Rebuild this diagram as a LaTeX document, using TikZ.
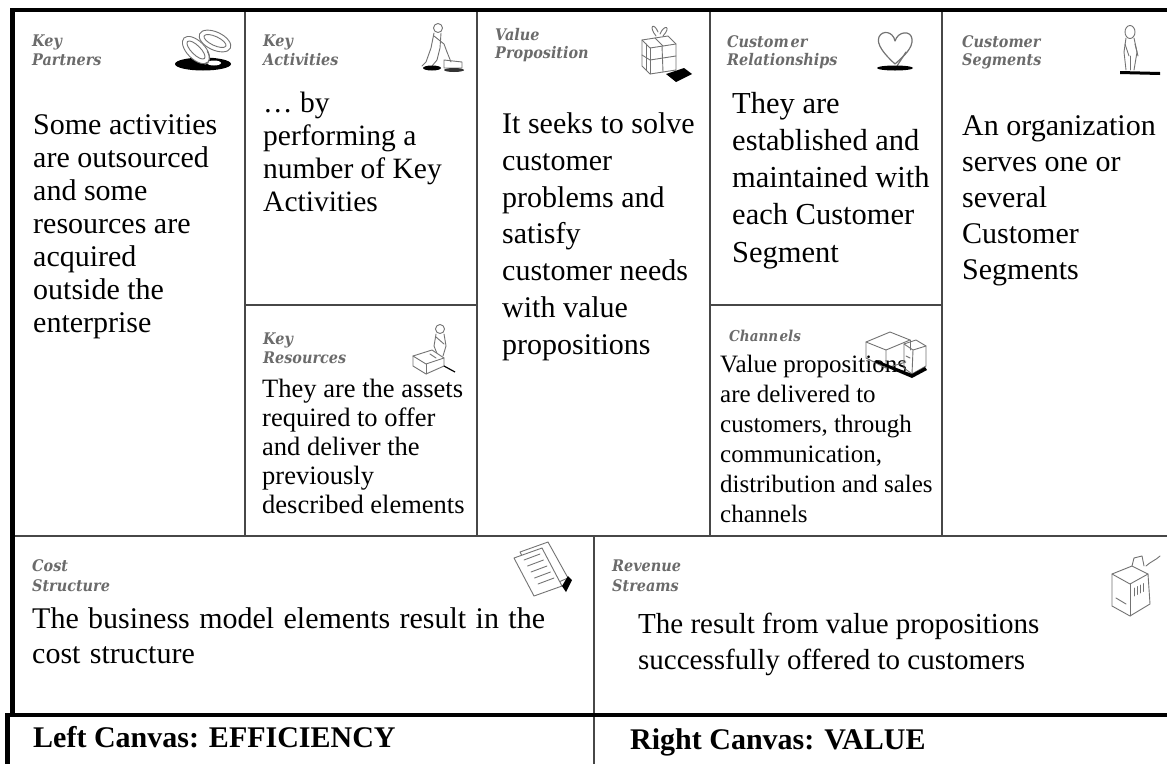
\documentclass[tikz,border=0pt]{standalone}
\usepackage{fontspec}
\setmainfont{Liberation Serif}
\newfontfamily\labelfont[FakeStretch=0.9]{DejaVu Serif}
\newfontfamily\widefont[WordSpace=1.25]{Liberation Serif}
\usetikzlibrary{calc}
\begin{document}
\begin{tikzpicture}[x=1pt,y=-1pt,
  thinrule/.style={draw=black!72, line width=2pt},
  thickrule/.style={draw=black, line width=4.5pt},
  blocklabel/.style={anchor=north west, inner sep=0pt, align=left, text=black!58,
    font=\labelfont\bfseries\itshape\fontsize{16}{18.5}\selectfont},
  textsize/.style 2 args={font=\fontsize{#1}{#2}\selectfont},
  bodytext/.style={anchor=north west, inner sep=0pt, align=left},
  footertext/.style={anchor=north west, inner sep=0pt,
    font=\bfseries\fontsize{30}{33}\selectfont},
  sketch/.style={draw=black!55, line width=0.9pt, line cap=round, line join=round},
]
\useasboundingbox (0,0) rectangle (1167,764);
\fill[white] (0,0) rectangle (1167,764);

% ---- grid of the canvas ----
\coordinate (c1) at (245,10);
\coordinate (c2) at (477,10);
\coordinate (c3) at (710,10);
\coordinate (c4) at (942,10);
\draw[thinrule] (c1) -- (245,536);
\draw[thinrule] (c2) -- (477,536);
\draw[thinrule] (c3) -- (710,536);
\draw[thinrule] (c4) -- (942,536);
\draw[thinrule] (245,305) -- (477,305);
\draw[thinrule] (710,305) -- (942,305);
\draw[thinrule] (12,536) -- (1167,536);
\draw[thinrule] (594,536) -- (594,764);
% heavy outer rules
\draw[thickrule] (10,10) -- (1167,10);
\draw[thickrule] (12.5,8) -- (12.5,717);
\draw[thickrule] (5,715) -- (1167,715);
\draw[thickrule] (7.5,713) -- (7.5,764);

% ---- block titles ----
\node[blocklabel] (kpLabel) at (32,35) {Key\\Partners};
\node[blocklabel] (kaLabel) at (263,35) {Key\\Activities};
\node[blocklabel] (vpLabel) at (495,28) {Value\\Proposition};
\node[blocklabel] (crLabel) at (727,35) {Custom\hspace{2pt}er\\Relationships};
\node[blocklabel] (csLabel) at (962,35) {Customer\\Segments};
\node[blocklabel] (krLabel) at (263,333) {Key\\Resources};
\node[blocklabel, font=\labelfont\bfseries\itshape\fontsize{15}{17}\selectfont] (chLabel) at (729,330) {Chann\hspace{1.5pt}els};
\node[blocklabel, font=\labelfont\bfseries\itshape\fontsize{16}{20}\selectfont] (cosLabel) at (32,559) {Cost\\Structure};
\node[blocklabel, font=\labelfont\bfseries\itshape\fontsize{16}{20}\selectfont] (revLabel) at (612,560) {Revenue\\Streams};

% ---- block texts ----
\node[bodytext, textsize={30}{33}] (kpText) at (33,114) {Some activities\\are outsourced\\and some\\resources are\\acquired\\outside the\\enterprise};
\node[bodytext, textsize={29.5}{33}] (kaText) at (263,92) {… by\\performing a\\number of Key\\Activities};
\node[bodytext, textsize={30}{36.8}] (vpText) at (502,112.5) {It seeks to solve\\customer\\problems and\\satisfy\\customer needs\\with value\\propositions};
\node[bodytext, textsize={30.5}{37.2}] (crText) at (732,92) {They are\\established and\\maintained with\\each Customer\\Segment};
\node[bodytext, textsize={30}{36}] (csText) at (962,115) {An organization\\serves one or\\several\\Customer\\Segments};
\node[bodytext, textsize={26.5}{29}] (krText) at (262,379) {They are the assets\\required to offer\\and deliver the\\previously\\described elements};
\node[bodytext, textsize={25}{30}] (chText) at (720,355) {Value propositions\\are delivered to\\customers, through\\communication,\\distribution and sales\\channels};
\node[bodytext, font=\widefont\fontsize{30}{35}\selectfont] (cosText) at (32,607.5) {The business model elements result in the\\cost structure};
\node[bodytext, textsize={29}{35.5}] (revText) at (638,613) {The result from value propositions\\successfully offered to customers};
\node[footertext] (leftFoot) at (33,726) {Left Canvas: EFFICIENCY};
\node[footertext] (rightFoot) at (630,728) {Right Canvas: VALUE};

% ---- icons ----
% interlocked rings
\fill[black] (203,64) ellipse [x radius=28, y radius=6.5];
\fill[white] (214,63) ellipse [x radius=7, y radius=2.5];
\begin{scope}[shift={(196,50)}, rotate=-45]
  \draw[sketch, fill=white] (0,0) ellipse [x radius=17, y radius=9];
  \draw[sketch] (0,0) ellipse [x radius=12, y radius=4.5];
\end{scope}
\begin{scope}[shift={(215,41)}, rotate=-25]
  \draw[sketch, fill=white] (0,0) ellipse [x radius=17, y radius=9];
  \draw[sketch] (0,0) ellipse [x radius=12, y radius=4.5];
\end{scope}
\begin{scope}[shift={(196,50)}, rotate=-45]
  \draw[sketch] (9,-7) arc [start angle=-60, end angle=20, x radius=17, y radius=9];
\end{scope}

% figure pushing a mower
\draw[sketch] (438,28) circle [radius=4.5];
\draw[sketch] (434,33) -- (431,48) -- (426,62) -- (422,66);
\draw[sketch] (441,33) -- (440,48) -- (437,60) -- (432,66);
\draw[sketch] (434,36) -- (444,44) -- (447,52);
\draw[sketch] (447,52) -- (451,62);
\draw[sketch] (444,60) -- (462,62) -- (462,68) -- (444,68) -- cycle;
\fill[black] (432,68) ellipse [x radius=9, y radius=2.5];
\fill[black!80] (454,70) ellipse [x radius=10, y radius=2];

% gift box
\draw[sketch, fill=white] (642,40) -- (668,36) -- (676,44) -- (676,70) -- (650,74) -- (642,66) -- cycle;
\draw[sketch] (642,40) -- (650,48) -- (676,44);
\draw[sketch] (650,48) -- (650,74);
\draw[sketch] (646,44) -- (646,70);
\draw[sketch] (662,46) -- (663,72);
\draw[sketch] (642,55) -- (650,60) -- (676,56);
\draw[sketch] (655,38) -- (663,46);
\draw[sketch] (656,36) .. controls (648,26) and (654,22) .. (658,32);
\draw[sketch] (660,34) .. controls (664,24) and (672,26) .. (663,36);
\fill[black] (666,74) -- (684,68) -- (692,74) -- (676,82) -- cycle;

% heart
\draw[sketch, line width=1.2pt] (895,64) .. controls (884,54) and (876,44) .. (879,37)
  .. controls (882,30) and (893,31) .. (895,41)
  .. controls (898,31) and (911,30) .. (912,39)
  .. controls (913,48) and (904,56) .. (895,64);
\draw[sketch, line width=1.2pt] (906,52) -- (897,66);
\fill[black] (895,68) ellipse [x radius=18, y radius=2.5];

% standing person
\draw[sketch] (1130,32) ellipse [x radius=5, y radius=6.5];
\draw[sketch] (1126,38) -- (1124,52) -- (1126,70);
\draw[sketch] (1134,38) -- (1137,52) -- (1134,70);
\draw[sketch] (1125,44) -- (1129,56);
\draw[sketch] (1135,44) -- (1138,56);
\draw[sketch] (1130,56) -- (1130,70);
\fill[black] (1120,71) -- (1160,72) -- (1160,75) -- (1120,74) -- cycle;

% figure on a machine
\draw[sketch] (440,329) circle [radius=4.5];
\draw[sketch] (436,334) -- (434,346) -- (438,356);
\draw[sketch] (444,334) -- (446,346) -- (443,356);
\draw[sketch] (436,337) -- (444,344);
\draw[sketch, fill=white] (413,356) -- (432,350) -- (444,358) -- (444,366) -- (426,374) -- (413,366) -- cycle;
\draw[sketch] (413,356) -- (426,364) -- (444,358);
\draw[sketch] (426,364) -- (426,374);
\draw[sketch] (430,354) -- (436,358);
\draw[black, line width=1.2pt] (444,366) -- (455,372);

% delivery van
\draw[sketch] (866,342) -- (890,332) -- (910,340) -- (886,350) -- cycle;
\draw[sketch] (866,342) -- (866,358) -- (886,368) -- (886,350);
\draw[sketch] (910,340) -- (910,350);
\draw[sketch] (886,368) -- (906,362);
\draw[sketch] (904,344) -- (916,340) -- (926,346) -- (926,366) -- (912,374) -- (904,368) -- cycle;
\draw[sketch] (904,344) -- (913,350) -- (926,346);
\draw[sketch] (913,350) -- (912,374);
\draw[sketch] (906,356) -- (910,358);
\fill[black] (876,360) -- (912,374) -- (925,367) -- (927,370) -- (912,378) -- (874,362) -- cycle;

% paper sheets
\draw[sketch, fill=white] (520,552) -- (548,542) -- (568,578) -- (540,590) -- cycle;
\draw[sketch, fill=white] (514,558) -- (542,548) -- (562,586) -- (534,596) -- cycle;
\foreach \k in {0,1,2,3,4} {
  \draw[sketch] ($(524,560)+(\k*3.5,\k*6)$) -- ++(16,-6);
}
\fill[black] (562,586) -- (568,576) -- (572,580) -- (566,592) -- cycle;

% cash register
\draw[sketch, fill=white] (1112,574) -- (1132,566) -- (1148,574) -- (1150,604) -- (1130,616) -- (1112,606) -- cycle;
\draw[sketch] (1112,574) -- (1130,584) -- (1148,574);
\draw[sketch] (1130,584) -- (1130,616);
\draw[sketch] (1132,566) -- (1134,558) -- (1142,556) -- (1144,566);
\draw[sketch] (1146,566) .. controls (1150,562) and (1156,560) .. (1160,556);
\foreach \k in {0,1,2,3} {
  \draw[sketch] ($(1134,588)+(\k*3,-\k*1.5)$) -- ++(0,8);
}
\draw[sketch] (1116,598) -- (1126,604);
\end{tikzpicture}
\end{document}
